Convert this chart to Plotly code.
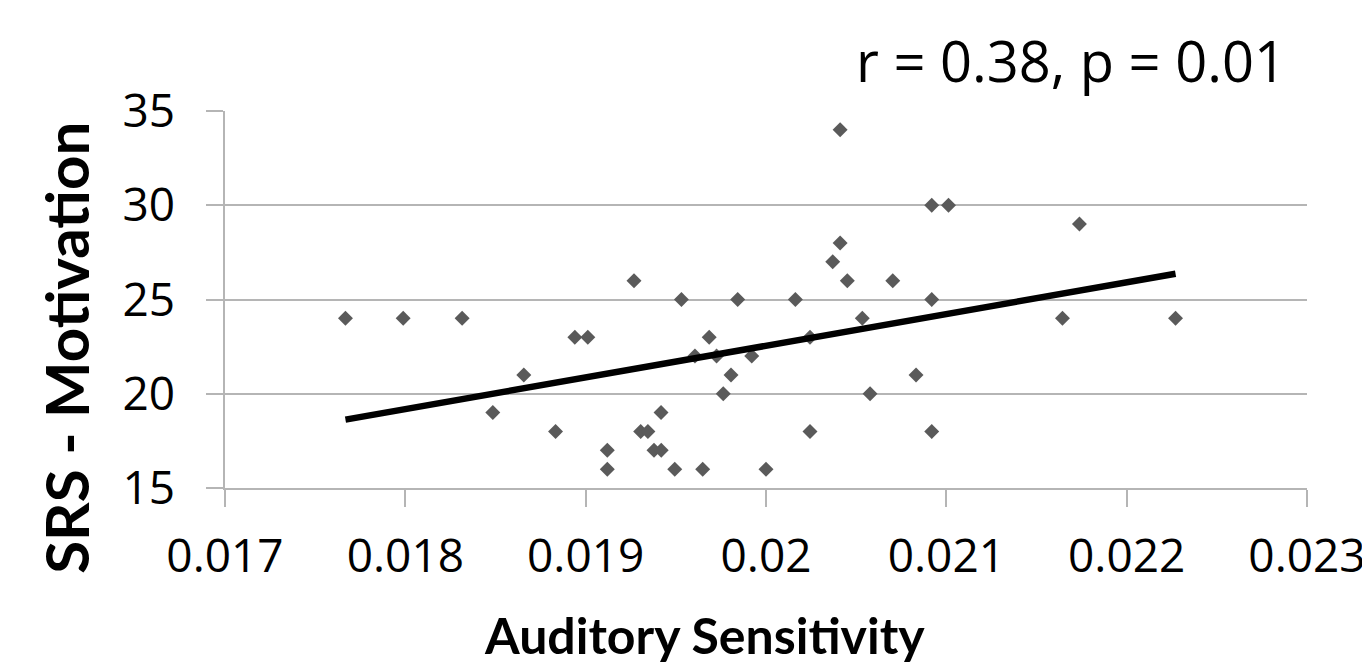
import numpy as np
import plotly.graph_objects as go

# Auditory sensitivity score per participant
auditory_sensitivity = [
    0.017668, 0.017988, 0.018315, 0.018485, 0.018657, 0.018833, 0.018940,
    0.019012, 0.019120, 0.019120, 0.019268, 0.019305, 0.019345, 0.019379,
    0.019419, 0.019418, 0.019494, 0.019531, 0.019606, 0.019649, 0.019685,
    0.019726, 0.019763, 0.019806, 0.019843, 0.019921, 0.020000, 0.020163,
    0.020244, 0.020244, 0.020370, 0.020411, 0.020411, 0.020451, 0.020534,
    0.020577, 0.020703, 0.020832, 0.020919, 0.021012, 0.020919, 0.020919,
    0.021644, 0.021738, 0.022271,
]
# SRS motivation subscale score per participant
srs_motivation = [
    24, 24, 24, 19, 21, 18, 23,
    23, 17, 16, 26, 18, 18, 17,
    17, 19, 16, 25, 22, 16, 23,
    22, 20, 21, 25, 22, 16, 25,
    23, 18, 27, 28, 34, 26, 24,
    20, 26, 21, 30, 30, 25, 18,
    24, 29, 24,
]
stats_label = "r = 0.38, p = 0.01"
x_title = "Auditory Sensitivity"
y_title = "SRS - Motivation"

# Least-squares linear trend over the observed x span
x_arr = np.array(auditory_sensitivity)
y_arr = np.array(srs_motivation, dtype=float)
slope, intercept = np.polyfit(x_arr, y_arr, 1)
trend_x = [x_arr.min(), x_arr.max()]
trend_y = [slope * v + intercept for v in trend_x]

GRID = "#b5b5b5"
TEXT_FONT = "Open Sans, Noto Sans, sans-serif"
TITLE_FONT = "Lato, Open Sans, sans-serif"

fig = go.Figure()
fig.add_trace(go.Scatter(
    x=auditory_sensitivity, y=srs_motivation, mode="markers",
    marker=dict(symbol="diamond", size=11.5, color="#5a5a5a", line=dict(width=0)),
    showlegend=False, hoverinfo="skip",
))
fig.add_trace(go.Scatter(
    x=trend_x, y=trend_y, mode="lines",
    line=dict(color="black", width=6.5),
    showlegend=False, hoverinfo="skip",
))

fig.update_layout(
    width=1362, height=668,
    margin=dict(l=225.3, r=55.3, t=110.7, b=179.7, autoexpand=False),
    paper_bgcolor="white", plot_bgcolor="white",
    font=dict(family=TEXT_FONT, color="black", size=46),
    xaxis=dict(
        range=[0.017, 0.023], dtick=0.001, tick0=0.017,
        showgrid=False, zeroline=False,
        showline=True, linecolor=GRID, linewidth=1.5,
        ticks="outside", ticklen=17, tickcolor=GRID, tickwidth=1.5,
        tickfont=dict(family=TEXT_FONT, size=46, color="black"),
        ticklabelstandoff=10, ticklabeloverflow="allow",
    ),
    yaxis=dict(
        range=[15, 35], dtick=5, tick0=15,
        showgrid=True, gridcolor=GRID, gridwidth=1.5, zeroline=False,
        showline=True, linecolor=GRID, linewidth=1.5,
        ticks="outside", ticklen=17, tickcolor=GRID, tickwidth=1.5,
        tickfont=dict(family=TEXT_FONT, size=46, color="black"),
        ticklabelstandoff=22, ticklabeloverflow="allow",
    ),
    annotations=[
        dict(text=stats_label, xref="paper", yref="paper",
             x=0.982, y=1.136, xanchor="right", yanchor="middle",
             showarrow=False, font=dict(family=TEXT_FONT, size=56, color="black")),
        dict(text="<b>" + x_title + "</b>", xref="paper", yref="paper",
             x=0.4431, y=-0.39, xanchor="center", yanchor="middle",
             showarrow=False, font=dict(family=TITLE_FONT, size=50, color="black")),
        dict(text="<b>" + y_title + "</b>", xref="paper", yref="paper",
             x=-0.147, y=0.3716, xanchor="center", yanchor="middle", textangle=-90,
             showarrow=False, font=dict(family=TITLE_FONT, size=60, color="black")),
    ],
)

fig.write_html("out.html")
